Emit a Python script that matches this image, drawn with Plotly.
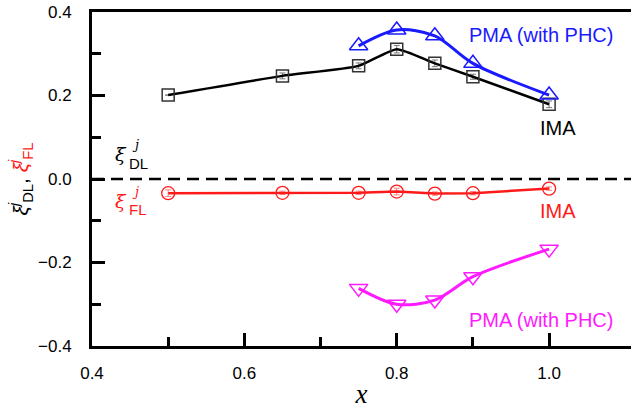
import plotly.graph_objects as go

# x positions (composition)
x_ima = [0.5, 0.65, 0.75, 0.8, 0.85, 0.9, 1.0]
x_pma = [0.75, 0.8, 0.85, 0.9, 1.0]

# damping-like torque efficiency, IMA
dl_ima = [0.201, 0.247, 0.271, 0.311, 0.277, 0.245, 0.179]
dl_ima_err = [0.0, 0.007, 0.007, 0.009, 0.008, 0.006, 0.008]
# damping-like torque efficiency, PMA (with PHC)
dl_pma = [0.319, 0.357, 0.343, 0.277, 0.201]

# field-like torque efficiency, IMA
fl_ima = [-0.034, -0.033, -0.033, -0.030, -0.035, -0.034, -0.023]
fl_ima_err = [0.008, 0.004, 0.004, 0.008, 0.004, 0.004, 0.004]
# field-like torque efficiency, PMA (with PHC)
fl_pma = [-0.262, -0.300, -0.290, -0.234, -0.168]

x_ticks = [0.4, 0.6, 0.8, 1.0]
x_tick_text = ["0.4", "0.6", "0.8", "1.0"]
x_minor = [0.5, 0.7, 0.9]
y_ticks = [-0.4, -0.2, 0.0, 0.2, 0.4]
y_tick_text = ["\u22120.4", "\u22120.2", "0.0", "0.2", "0.4"]
y_minor = [-0.3, -0.1, 0.1, 0.3]

BLUE = "#1a1aff"
RED = "#ff1a1a"
MAGENTA = "#ff1aff"
FONT = "Liberation Sans, Arial, sans-serif"

fig = go.Figure()

fig.add_trace(go.Scatter(
    x=x_ima, y=dl_ima, mode="lines+markers",
    line=dict(color="black", width=2.5, shape="spline", smoothing=0.5),
    marker=dict(symbol="square-open", size=12, color="#333333", line=dict(width=1.5)),
    error_y=dict(type="data", array=dl_ima_err, color="#777777", thickness=1, width=3),
))
fig.add_trace(go.Scatter(
    x=x_pma, y=dl_pma, mode="lines+markers",
    line=dict(color=BLUE, width=3, shape="spline", smoothing=0.9),
    marker=dict(symbol="triangle-up-open", size=16, color=BLUE, line=dict(width=1.5)),
))
fig.add_trace(go.Scatter(
    x=x_ima, y=fl_ima, mode="lines+markers",
    line=dict(color=RED, width=2.5),
    marker=dict(symbol="circle-open", size=13, color=RED, line=dict(width=1.3)),
    error_y=dict(type="data", array=fl_ima_err, color="#ff8080", thickness=1, width=3),
))
fig.add_trace(go.Scatter(
    x=x_pma, y=fl_pma, mode="lines+markers",
    line=dict(color=MAGENTA, width=3, shape="spline", smoothing=0.9),
    marker=dict(symbol="triangle-down-open", size=16, color=MAGENTA, line=dict(width=1.5)),
))

# dashed zero line
fig.add_shape(type="line", xref="paper", x0=0, x1=1, yref="y", y0=0, y1=0,
              line=dict(color="black", width=2.5, dash="12px,7px"))

def label(x, y, text, color, size=20, **kw):
    fig.add_annotation(x=x, y=y, text=text, showarrow=False,
                       font=dict(family=FONT, size=size, color=color), **kw)

label(0.892, 0.346, "PMA (with PHC)", BLUE, xanchor="left")
label(0.986, 0.122, "IMA", "black", xanchor="left")
label(0.986, -0.077, "IMA", RED, xanchor="left")
label(0.892, -0.338, "PMA (with PHC)", MAGENTA, xanchor="left")

# stacked xi symbols next to the zero line
def xi(y, sub, color):
    fig.add_annotation(x=0.4387, y=y, text="<i>\u03be</i>", showarrow=False,
                       font=dict(family="DejaVu Serif, serif", size=19, color=color))
    fig.add_annotation(x=0.4575, y=y + 0.022, text="<i>j</i>", showarrow=False,
                       font=dict(family="DejaVu Serif, serif", size=13, color=color))
    fig.add_annotation(x=0.4610, y=y - 0.022, text=sub, showarrow=False,
                       font=dict(family=FONT, size=15, color=color))

xi(0.060, "DL", "black")
xi(-0.052, "FL", RED)

fig.update_layout(
    width=631, height=409,
    margin=dict(l=92, r=0, t=12, b=63),
    paper_bgcolor="white", plot_bgcolor="white",
    showlegend=False,
    font=dict(family=FONT, size=17, color="black"),
    xaxis=dict(
        range=[0.4, 1.1075], tickvals=x_ticks, ticktext=x_tick_text,
        ticks="inside", ticklen=13, tickwidth=2.5, tickcolor="black",
        minor=dict(tickvals=x_minor, ticks="inside", ticklen=9, tickwidth=2.5, tickcolor="black"),
        showline=True, linewidth=3, linecolor="black", mirror=True,
        showgrid=False, zeroline=False, ticklabelstandoff=10,
        title=dict(text="<i>x</i>", font=dict(family="Liberation Serif, Times New Roman, serif", size=27), standoff=4),
    ),
    yaxis=dict(
        range=[-0.4, 0.4], tickvals=y_ticks, ticktext=y_tick_text,
        ticks="inside", ticklen=13, tickwidth=2.5, tickcolor="black",
        minor=dict(tickvals=y_minor, ticks="inside", ticklen=9, tickwidth=2.5, tickcolor="black"),
        showline=True, linewidth=3, linecolor="black", mirror=False,
        showgrid=False, zeroline=False, ticklabelstandoff=14,
        title=dict(
            text="<i>\u03be</i><sup><i>j</i></sup><sub>DL</sub>, "
                 "<span style='color:#ff1a1a'><i>\u03be</i><sup><i>j</i></sup><sub>FL</sub></span>",
            font=dict(family=FONT, size=21), standoff=4),
    ),
)

fig.write_html("out.html")
